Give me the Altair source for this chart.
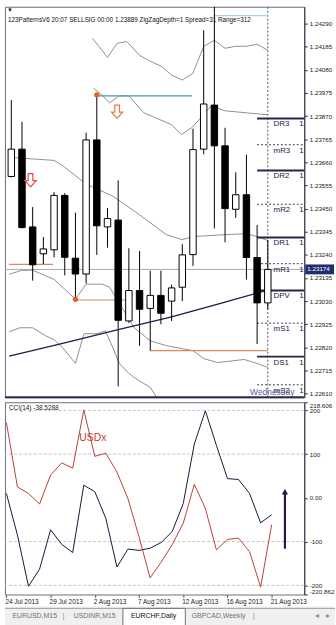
import altair as alt
import pandas as pd

# ---------------- data ----------------
idx = list(range(25))
open_ = [1.23596, 1.23720, 1.23367, 1.23245, 1.23263, 1.23510, 1.23225, 1.23153, 1.23762, 1.23367,
         1.23398, 1.22940, 1.23078, 1.22997, 1.23056, 1.23030, 1.23093, 1.23241, 1.23720, 1.23920,
         1.23735, 1.23447, 1.23513, 1.23228, 1.23022]
high = [1.23943, 1.23844, 1.23457, 1.23321, 1.23525, 1.23520, 1.23432, 1.23795, 1.23967, 1.23453,
        1.23578, 1.23270, 1.23258, 1.23168, 1.23168, 1.23105, 1.23288, 1.23813, 1.24260, 1.24420,
        1.23817, 1.23615, 1.23695, 1.23375, 1.23308]
low = [1.23592, 1.23360, 1.23123, 1.23198, 1.23229, 1.23147, 1.23038, 1.23110, 1.23240, 1.23273,
       1.22643, 1.22931, 1.22827, 1.22805, 1.22925, 1.22940, 1.23030, 1.23190, 1.23697, 1.23360,
       1.23297, 1.23408, 1.23128, 1.22835, 1.22993]
close = [1.23720, 1.23364, 1.23195, 1.23267, 1.23510, 1.23229, 1.23153, 1.23762, 1.23372, 1.23405,
         1.22943, 1.23078, 1.22993, 1.23056, 1.22975, 1.23090, 1.23240, 1.23718, 1.23925, 1.23735,
         1.23450, 1.23513, 1.23228, 1.23022, 1.23174]

price_ticks = [1.24290, 1.24185, 1.24080, 1.23975, 1.23870, 1.23765, 1.23660, 1.23555, 1.23450,
               1.23345, 1.23240, 1.23135, 1.23030, 1.22925, 1.22820, 1.22715, 1.22610]
current_price = 1.23174

date_idx = [0, 4, 8, 12, 16, 20, 24]
date_lbl = ["24 Jul 2013", "29 Jul 2013", "2 Aug 2013", "7 Aug 2013", "12 Aug 2013",
            "16 Aug 2013", "21 Aug 2013"]

# band lines (grey)
bandA_i = [7.6, 9.0, 9.9, 10.8, 12, 13, 14, 15, 16, 17, 18, 19, 20, 21, 22, 23, 24]
bandA_v = [1.24223, 1.24137, 1.24200, 1.24209, 1.24146, 1.24119, 1.24097, 1.24056, 1.24034,
           1.24065, 1.24187, 1.24214, 1.24178, 1.24187, 1.24187, 1.24196, 1.24169]
bandB_i = [7.67, 8.56, 9.19, 10.1, 11.0, 12.4, 13.9, 15.0, 15.9, 16.9, 18.0, 18.7, 20.0, 22.0, 24.0]
bandB_v = [1.23998, 1.23962, 1.23930, 1.23962, 1.23962, 1.23885, 1.23854, 1.23831, 1.23786,
           1.23818, 1.23876, 1.23917, 1.23894, 1.23885, 1.23876]
bandC_i = [-0.2, 4, 5, 7, 9.5, 12, 14.5, 16, 17, 20, 22, 23, 24]
bandC_v = [1.23683, 1.23669, 1.23638, 1.23561, 1.23507, 1.23422, 1.23332, 1.23309, 1.23323,
           1.23332, 1.23336, 1.23323, 1.23305]
bandD_i = [-0.2, 1, 2, 4, 6, 7, 8.5, 9.2, 10, 11.5, 13, 14.5, 16, 17, 18, 19.3, 21.8, 23, 24]
bandD_v = [1.23152, 1.23170, 1.23170, 1.23129, 1.23039, 1.23107, 1.23107, 1.23093, 1.23030,
           1.22909, 1.22850, 1.22828, 1.22814, 1.22805, 1.22769, 1.22751, 1.22765, 1.22747, 1.22729]
bandE_i = [-0.2, 0.8, 2, 3.2, 4, 4.8, 6, 6.8, 8, 8.8, 9.5, 10.1, 11, 11.9, 13, 14]
bandE_v = [1.22891, 1.22909, 1.22909, 1.22873, 1.22855, 1.22819, 1.22747, 1.22882, 1.22882,
           1.22895, 1.22819, 1.22747, 1.22702, 1.22670, 1.22639, 1.22562]

# long moving average (navy)
ma_i = [-0.2, 5, 10, 15, 20, 24]
ma_v = [1.22780, 1.22841, 1.22901, 1.22958, 1.23026, 1.23080]

# 123 pattern / zigzag levels
zz_start = [-0.2, 6, 13]
zz_end = [3.9, 11, 24]
zz_level = [1.23197, 1.23035, 1.22805]
teal_start = [8, 19.05]
teal_end = [16.9, 24]
teal_level = [1.23962, 1.24326]
dot_i = [6, 8]
dot_v = [1.23038, 1.23967]
arrow_i = [1.8, 9.9]
arrow_v = [1.23579, 1.23890]

# daily pivots
piv_names = ["DR3", "mR3", "DR2", "mR2", "DR1", "mR1", "DPV", "mS1", "DS1", "mS2"]
piv_levels = [1.23859, 1.23740, 1.23623, 1.23470, 1.23319, 1.23200, 1.23078, 1.22930, 1.22778, 1.22650]

# CCI(14) panel
cci_black = [10, -85, -202, -163, -73, -106, -125, 29, 14, -47, -158, -117, -120, -115, -102,
             -77, -13, 123, 199, 120, 44, 42, 10, -57, -38.5288]
cci_usdx = [172, 25, 10, -14, 52, 80, 68, 201, 95, 102, 59, -2, -89, -183, -147, -107, -58, 31,
            -24, -119, -95, -92, -123, -204, -61]
cci_levels = [200, 100, -100, -200]
cci_ticks = [218.606, 200, 100, 0, -100, -200, -220.862]
signal_i = 25.2
signal_from, signal_to = -116, 14

tabs = ["EURUSD,M15", "USDINR,M15", "EURCHF,Daily", "GBPCAD,Weekly"]
title_txt = "123PatternsV6  20:07  SELLSIG  00:00  1.23889  ZigZagDepth=1  Spread=31  Range=312"

# ---------------- chart ----------------
FONT = "Liberation Sans"
W, HM, HC, HT = 302, 394, 194, 19
xs = alt.Scale(domain=[-0.13, 26.95], nice=False, zero=False)
ys = alt.Scale(domain=[1.225935, 1.243665], nice=False, zero=False)
cs = alt.Scale(domain=[-220.862, 218.606], nice=False, zero=False)

y_axis = alt.Axis(orient="right", values=price_ticks, labelExpr="format(datum.value, '.5f')",
                  title=None, grid=False, labelFontSize=6.3, labelColor="#222222", tickSize=3,
                  tickColor="#333344", domainColor="#333344", labelPadding=2,
                  labelOverlap=False, labelFlush=False)


def X(f="i"):
    return alt.X(f"{f}:Q", scale=xs, axis=None)


def Y(f):
    return alt.Y(f"{f}:Q", scale=ys, axis=y_axis)


cd = pd.DataFrame({"i": idx, "o": open_, "h": high, "l": low, "c": close})
cd["top"] = cd[["o", "c"]].max(axis=1)
cd["bot"] = cd[["o", "c"]].min(axis=1)
cd["fillc"] = ["white" if c >= o else "black" for o, c in zip(open_, close)]

bands = pd.concat([
    pd.DataFrame({"i": bandA_i, "v": bandA_v, "b": "A"}),
    pd.DataFrame({"i": bandB_i, "v": bandB_v, "b": "B"}),
    pd.DataFrame({"i": bandC_i, "v": bandC_v, "b": "C"}),
    pd.DataFrame({"i": bandD_i, "v": bandD_v, "b": "D"}),
    pd.DataFrame({"i": bandE_i, "v": bandE_v, "b": "E"}),
])

cur = alt.Chart(pd.DataFrame({"v": [current_price]})).mark_rule(color="#a8a8a8", strokeWidth=1).encode(y=Y("v"))
vline = alt.Chart(pd.DataFrame({"i": [24]})).mark_rule(color="#555566", strokeDash=[2, 2], strokeWidth=1).encode(x=X())
band_lines = alt.Chart(bands).mark_line(color="#8f8f8f", strokeWidth=1, clip=True).encode(
    x=X(), y=Y("v"), detail="b:N")
ma = alt.Chart(pd.DataFrame({"i": ma_i, "v": ma_v})).mark_line(color="#1c1c4a", strokeWidth=1.3).encode(x=X(), y=Y("v"))
zz = alt.Chart(pd.DataFrame({"s": zz_start, "e": zz_end, "v": zz_level})).mark_rule(
    color="#d48a5e", strokeWidth=1.2).encode(x=X("s"), x2="e:Q", y=Y("v"))
teal = alt.Chart(pd.DataFrame({"s": teal_start, "e": teal_end, "v": teal_level,
                               "col": ["#3c9fb0", "#a9d6de"]})).mark_rule(strokeWidth=1.2).encode(
    x=X("s"), x2="e:Q", y=Y("v"), color=alt.Color("col:N", scale=None))

pv = pd.DataFrame({"n": piv_names, "v": piv_levels, "s": 23.0})
pv["solid"] = [n.startswith("D") for n in piv_names]
piv_solid = alt.Chart(pv[pv.solid]).mark_rule(color="#26264a", strokeWidth=2).encode(
    x=X("s"), x2=alt.value(W), y=Y("v"))
piv_dash = alt.Chart(pv[~pv.solid]).mark_rule(color="#3a3a5a", strokeWidth=1, strokeDash=[2, 2]).encode(
    x=X("s"), x2=alt.value(W), y=Y("v"))
piv_txt = alt.Chart(pv).mark_text(align="left", baseline="middle", dy=6, fontSize=8, color="#20203c").encode(
    x=alt.value(271), y=Y("v"), text="n:N")
piv_one = alt.Chart(pv).mark_text(align="left", baseline="middle", dy=6, fontSize=8, color="#20203c").encode(
    x=alt.value(297), y=Y("v"), text=alt.value("1"))

wicks = alt.Chart(cd).mark_rule(color="black", strokeWidth=1, clip=True).encode(x=X(), y=Y("l"), y2="h:Q")
bodies = alt.Chart(cd).mark_bar(size=6.5, stroke="black", strokeWidth=1, clip=True).encode(
    x=X(), y=Y("bot"), y2="top:Q", fill=alt.Fill("fillc:N", scale=None))
dots = alt.Chart(pd.DataFrame({"i": dot_i, "v": dot_v})).mark_circle(color="#e8601c", size=28, opacity=1).encode(
    x=X(), y=Y("v"))
arrow_path = "M-0.35,-1L0.35,-1L0.35,0.05L0.85,0.05L0,1L-0.85,0.05L-0.35,0.05Z"
arrows = alt.Chart(pd.DataFrame({"i": arrow_i, "v": arrow_v, "col": ["#e0484a", "#e07a3c"]})).mark_point(
    shape=arrow_path, size=180, filled=False, fill="white", fillOpacity=1, strokeWidth=1.2, opacity=1).encode(
    x=X(), y=Y("v"), stroke=alt.Stroke("col:N", scale=None))

title = alt.Chart(pd.DataFrame({"t": [title_txt]})).mark_text(
    align="left", baseline="middle", fontSize=6.4, color="#111111").encode(
    x=alt.value(3), y=alt.value(13), text="t:N")
tri = alt.Chart(pd.DataFrame({"t": ["\u25BC"]})).mark_text(
    align="left", baseline="middle", fontSize=6, color="#222222").encode(
    x=alt.value(2), y=alt.value(3), text="t:N")
wed = alt.Chart(pd.DataFrame({"t": ["Wednesday"]})).mark_text(
    align="right", baseline="middle", fontSize=8.5, color="#55638f").encode(
    x=alt.value(292), y=alt.value(389), text="t:N")
tag = alt.Chart(pd.DataFrame({"v": [current_price]})).mark_rect(
    color="#1f2d6e", yOffset=-5, y2Offset=5).encode(x=alt.value(W + 1), x2=alt.value(W + 30), y=Y("v"), y2="v:Q")
tag_t = alt.Chart(pd.DataFrame({"v": [current_price]})).mark_text(
    align="left", baseline="middle", fontSize=6.3, color="white").encode(
    x=alt.value(W + 3), y=Y("v"), text=alt.Text("v:Q", format=".5f"))
bottom_line = alt.Chart(pd.DataFrame({"v": [0]})).mark_rule(color="#2c2c50", strokeWidth=2).encode(
    x=alt.value(0), x2=alt.value(W), y=alt.value(HM))

main = alt.layer(cur, vline, band_lines, ma, zz, teal, piv_solid, piv_dash, wicks, bodies, dots, arrows,
                 piv_txt, piv_one, title, tri, wed, tag, tag_t, bottom_line).properties(
    width=W, height=HM, view=alt.ViewBackground(stroke="#6c6c7c", strokeWidth=1))

# ---- CCI panel ----
label_expr = " : ".join(f"datum.value == {i} ? '{l}'" for i, l in zip(date_idx, date_lbl)) + " : ''"
x_axis = alt.Axis(values=date_idx, labelExpr=label_expr, title=None, grid=False, domain=False,
                  labelAlign="left", labelBaseline="top", labelFontSize=6.5, labelColor="#222222",
                  tickSize=3, tickColor="#555555", labelPadding=1, labelOffset=-1.5,
                  labelFlush=False, labelOverlap=False, labelBound=False)
c_axis = alt.Axis(orient="right", values=cci_ticks,
                  labelExpr="datum.value == 0 ? '0.00' : '' + datum.value",
                  title=None, grid=False, labelFontSize=6.3, labelColor="#222222", tickSize=3,
                  tickColor="#333344", domainColor="#333344", labelPadding=2, labelOverlap=False,
                  labelFlush=True)

cci_df = pd.concat([
    pd.DataFrame({"i": idx, "v": cci_black, "s": "CCI"}),
    pd.DataFrame({"i": idx, "v": cci_usdx, "s": "USDx"}),
])
CX = alt.X("i:Q", scale=xs, axis=x_axis)
CY = alt.Y("v:Q", scale=cs, axis=c_axis)
grid = alt.Chart(pd.DataFrame({"v": cci_levels})).mark_rule(
    color="#c4c4c4", strokeDash=[3, 2], strokeWidth=1).encode(y=CY)
cci_lines = alt.Chart(cci_df).mark_line(strokeWidth=1).encode(
    x=CX, y=CY, color=alt.Color("s:N", scale=alt.Scale(domain=["CCI", "USDx"], range=["#18183c", "#b8403c"]),
                                legend=None))
sig = alt.Chart(pd.DataFrame({"i": [signal_i], "a": [signal_from], "b": [signal_to]})).mark_rule(
    color="#1a1a4e", strokeWidth=2.2).encode(x=CX, y=alt.Y("a:Q", scale=cs, axis=c_axis), y2="b:Q")
sig_head = alt.Chart(pd.DataFrame({"i": [signal_i], "v": [signal_to]})).mark_point(
    shape="triangle-up", filled=True, color="#1a1a4e", size=40, opacity=1).encode(x=CX, y=CY)
usdx = alt.Chart(pd.DataFrame({"t": ["USDx"]})).mark_text(
    align="left", baseline="middle", fontSize=10.5, color="#cc3a34").encode(
    x=alt.value(75), y=alt.value(36), text="t:N")
cci_t = alt.Chart(pd.DataFrame({"t": ["CCI(14) -38.5288"]})).mark_text(
    align="left", baseline="middle", fontSize=6.5, color="#222222").encode(
    x=alt.value(4), y=alt.value(6), text="t:N")

cci = alt.layer(grid, cci_lines, sig, sig_head, usdx, cci_t).properties(
    width=W, height=HC, view=alt.ViewBackground(stroke="#6c6c7c", strokeWidth=1))

# ---- tab bar ----
TW = 333
tab_layers = [
    alt.Chart(pd.DataFrame({"v": [0]})).mark_rule(color="#a0a0a0", strokeWidth=1).encode(
        x=alt.value(0), x2=alt.value(TW), y=alt.value(2)),
    alt.Chart(pd.DataFrame({"v": [0]})).mark_rect(fill="white", stroke="#707070", strokeWidth=1).encode(
        x=alt.value(119), x2=alt.value(182), y=alt.value(2), y2=alt.value(HT + 2)),
]
tab_x = [30, 90.5, 150, 215.5]
for t, xx in zip(tabs, tab_x):
    sel = t == "EURCHF,Daily"
    tab_layers.append(alt.Chart(pd.DataFrame({"t": [t]})).mark_text(
        align="center", baseline="middle", fontSize=7, color="#111111" if sel else "#707070").encode(
        x=alt.value(xx), y=alt.value(10), text="t:N"))
for t, xx in [("|", 59), ("|", 251), ("\u25C2", 315), ("\u25B8", 326)]:
    tab_layers.append(alt.Chart(pd.DataFrame({"t": [t]})).mark_text(
        align="center", baseline="middle", fontSize=8, color="#909090").encode(
        x=alt.value(xx), y=alt.value(10), text="t:N"))
tabbar = alt.layer(*tab_layers).properties(width=TW, height=HT,
                                           view=alt.ViewBackground(fill="#f0f0f0", stroke=None))

lower = alt.vconcat(cci, tabbar, spacing=1).resolve_scale(x="independent", y="independent")
chart = alt.vconcat(main, lower, spacing=2).resolve_scale(x="independent", y="independent").properties(
    padding={"left": 3, "top": 3, "right": 0, "bottom": 0}
).configure(font=FONT).configure_view(strokeWidth=1)

chart.save("out.html", embed_options={"renderer": "svg", "actions": False})
